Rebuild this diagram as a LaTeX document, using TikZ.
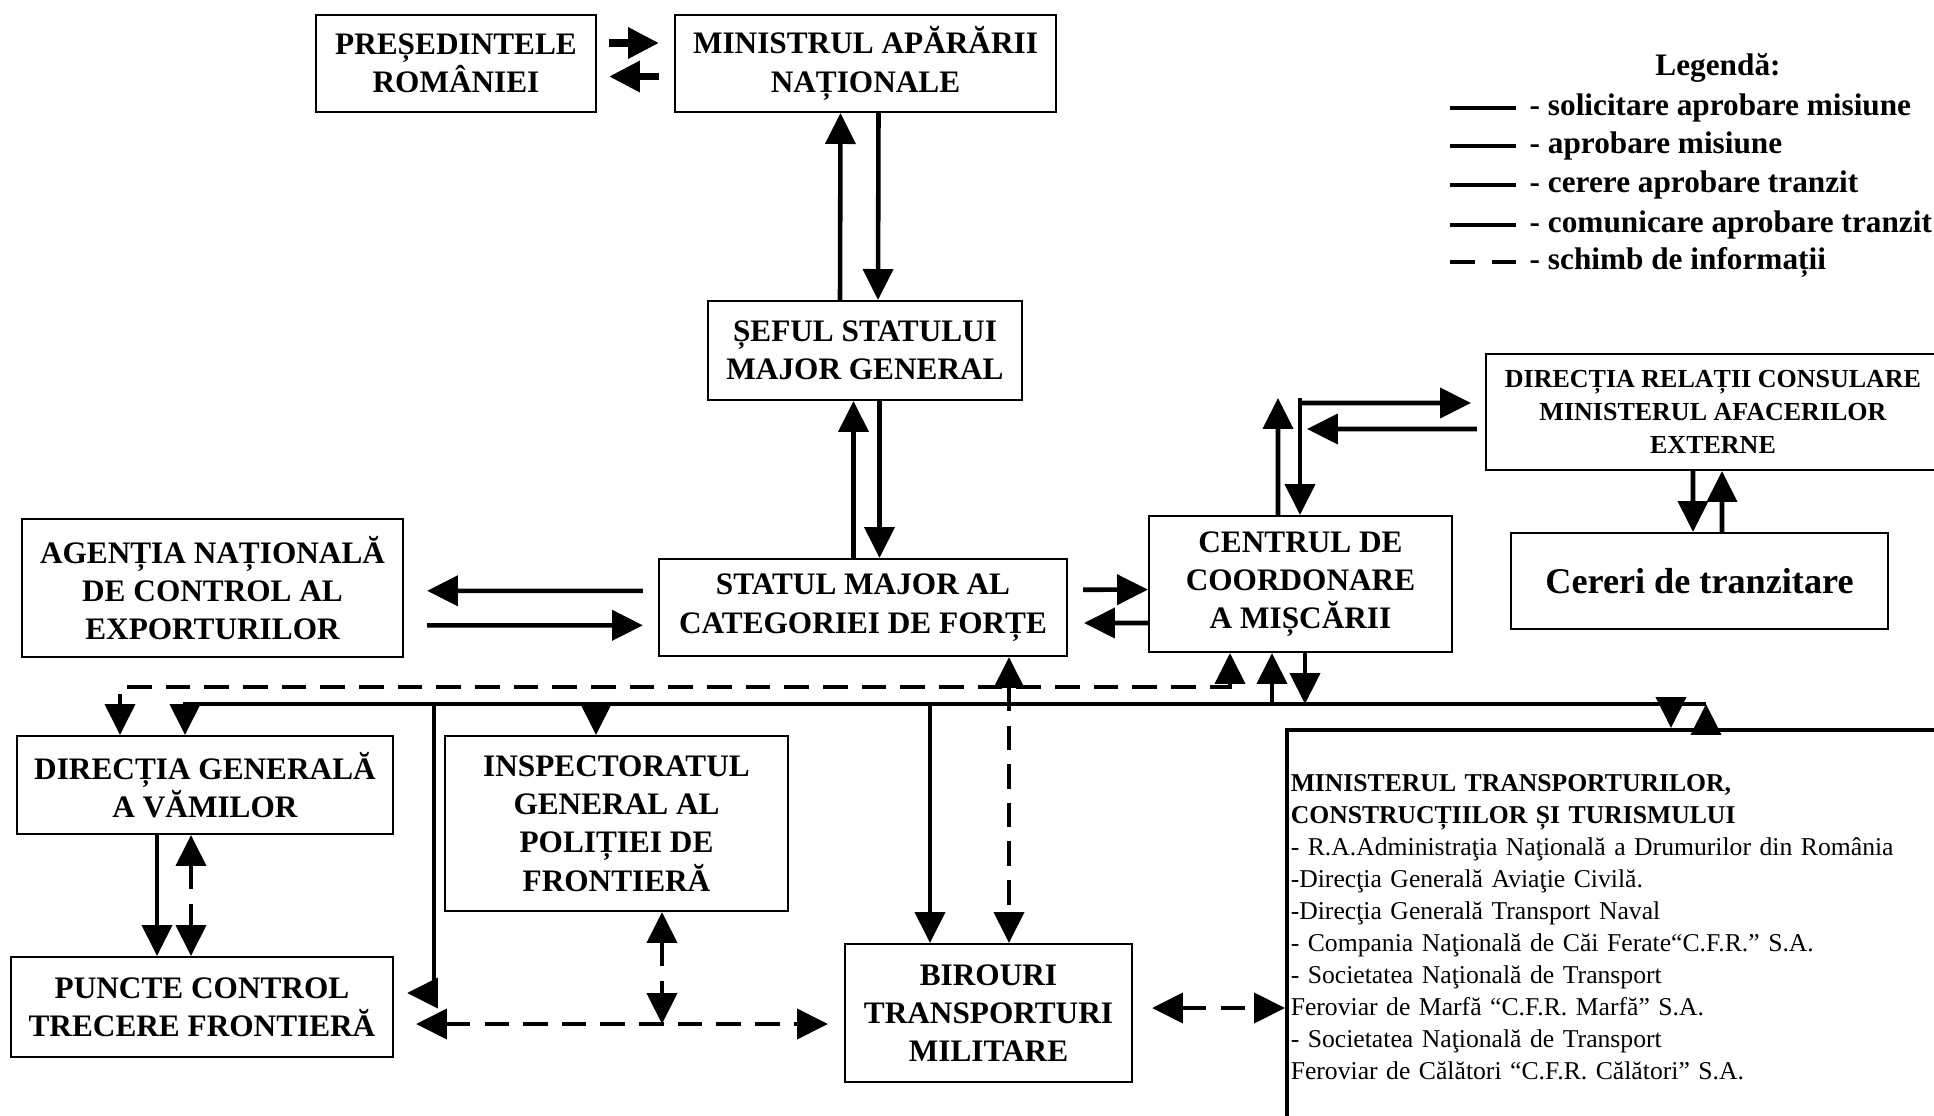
\documentclass[tikz,border=0pt]{standalone}
\usepackage{fontspec}
\setmainfont{Liberation Serif}
\usetikzlibrary{arrows.meta}

\tikzset{
	box/.style={draw, rectangle, line width=0.6pt, text centered, align=center, inner sep=1pt,
		font=\bfseries\fontsize{8.9}{10.9}\selectfont},
	link/.style={line width=1.3pt, -{Triangle[length=8.8pt,width=8.5pt]}},
	twoway/.style={line width=1.3pt, {Triangle[length=8.8pt,width=8.5pt]}-{Triangle[length=8.8pt,width=8.5pt]}},
	info/.style={twoway, dash pattern=on 7pt off 4pt},
	legline/.style={line width=1.4pt},
	legtext/.style={anchor=west, inner sep=0pt, font=\bfseries\fontsize{8.9}{10.9}\selectfont}
}

\begin{document}
\begin{tikzpicture}[x=0.1mm, y=-0.1mm]
		
		\useasboundingbox (0,0) rectangle (1934,1116);
		
		%Nodes
		\node (pres) at (456,63.5) [box, minimum width=2.8cm, minimum height=0.97cm]{PREȘEDINTELE\\ROMÂNIEI};
		\node (mapn) at (865.5,63.5) [box, minimum width=3.81cm, minimum height=0.97cm]{MINISTRUL APĂRĂRII\\NAȚIONALE};
		\node (sef) at (865,350.5) [box, minimum width=3.14cm, minimum height=0.99cm]{ȘEFUL STATULUI\\MAJOR GENERAL};
		\node (smcf) at (863,607.5) [box, minimum width=4.08cm, minimum height=0.97cm]{STATUL MAJOR AL\\CATEGORIEI DE FORȚE};
		\node (anc) at (212.5,588) [box, minimum width=3.81cm, minimum height=1.38cm]{AGENȚIA NAȚIONALĂ\\DE CONTROL AL\\EXPORTURILOR};
		\node (ccm) at (1300.5,584) [box, minimum width=3.03cm, minimum height=1.36cm]{CENTRUL DE\\COORDONARE\\A MIȘCĂRII};
		\node (drc) at (1713,412) [box, minimum width=4.54cm, minimum height=1.16cm, 
		font=\bfseries\fontsize{7.4}{9.3}\selectfont]{DIRECȚIA RELAȚII CONSULARE\\MINISTERUL AFACERILOR\\EXTERNE};
		\node (cereri) at (1699.5,581) [box, minimum width=3.77cm, minimum height=0.96cm, 
		font=\bfseries\fontsize{10.3}{12}\selectfont]{Cereri de tranzitare};
		
		%Bottom row
		\node (dgv) at (205,785) [box, minimum width=3.76cm, minimum height=0.98cm]{DIRECȚIA GENERALĂ\\A VĂMILOR};
		\node (igpf) at (616.5,823.5) [box, minimum width=3.43cm, minimum height=1.75cm]{INSPECTORATUL\\GENERAL AL\\POLIȚIEI DE\\FRONTIERĂ};
		\node (pctf) at (202,1007) [box, minimum width=3.82cm, minimum height=1cm]{PUNCTE CONTROL\\TRECERE FRONTIERĂ};
		\node (btm) at (988.5,1013) [box, minimum width=2.87cm, minimum height=1.38cm]{BIROURI\\TRANSPORTURI\\MILITARE};
		
		%Ministry box, cut by the page edge
		\node (mtct) at (1285,728) [draw, line width=1pt, anchor=north west, minimum height=3.95cm, 
		text width=6.8cm, align=left, inner xsep=0.4mm, font=\fontsize{7.3}{9.1}\selectfont]{%
			\textbf{MINISTERUL TRANSPORTURILOR,}\\
			\textbf{CONSTRUCȚIILOR ȘI TURISMULUI}\\
			- R.A.Administraţia Naţională a Drumurilor din România\\
			-Direcţia Generală Aviaţie Civilă.\\
			-Direcţia Generală Transport Naval\\
			- Compania Naţională de Căi Ferate“C.F.R.” S.A.\\
			- Societatea Naţională de Transport\\
			Feroviar de Marfă “C.F.R. Marfă” S.A.\\
			- Societatea Naţională de Transport\\
			Feroviar de Călători “C.F.R. Călători” S.A.};
		
		%Legend
		\node (leg) at (1718,68) [inner sep=0pt, font=\bfseries\fontsize{8.9}{10.9}\selectfont]{Legendă:};
		\node (l1) at (1529,108) [legtext]{- solicitare aprobare misiune};
		\node (l2) at (1529,146) [legtext]{- aprobare misiune};
		\node (l3) at (1529,185) [legtext]{- cerere aprobare tranzit};
		\node (l4) at (1529,225) [legtext]{- comunicare aprobare tranzit};
		\node (l5) at (1529,262) [legtext]{- schimb de informații};
		\draw[legline] ([xshift=-7.9mm]l1.west) -- ([xshift=-1.3mm]l1.west);
		\draw[legline] ([xshift=-7.9mm]l2.west) -- ([xshift=-1.3mm]l2.west);
		\draw[legline] ([xshift=-7.9mm]l3.west) -- ([xshift=-1.3mm]l3.west);
		\draw[legline] ([xshift=-7.9mm]l4.west) -- ([xshift=-1.3mm]l4.west);
		\draw[legline, dash pattern=on 7pt off 5pt] ([xshift=-7.9mm]l5.west) -- ([xshift=-1.3mm]l5.west);
		
		%Links
		\draw[link, line width=2pt, shorten <=1.2mm, shorten >=1.5mm] ([yshift=2.05mm]pres.east) -- ([yshift=2.05mm]mapn.west);
		\draw[link, line width=2pt, shorten <=1.5mm, shorten >=1.2mm] ([yshift=-1.3mm]mapn.west) -- ([yshift=-1.3mm]pres.east);
		\draw[link] ([xshift=-2.5mm]sef.north) -- ([xshift=-2.5mm]mapn.south);
		\draw[link] ([xshift=1.3mm]mapn.south) -- ([xshift=1.3mm]sef.north);
		\draw[link] ([xshift=-0.95mm]smcf.north) -- ([xshift=-1.15mm]sef.south);
		\draw[link] ([xshift=1.45mm]sef.south) -- ([xshift=1.65mm]smcf.north);
		\draw[link, shorten <=1.5mm, shorten >=2.3mm] ([yshift=1.67mm]smcf.west) -- ([yshift=-0.28mm]anc.east);
		\draw[link, shorten <=2.3mm, shorten >=1.5mm] ([yshift=-3.73mm]anc.east) -- ([yshift=-1.78mm]smcf.west);
		\draw[link, shorten <=1.5mm] ([yshift=1.77mm]smcf.east) -- ([yshift=-0.56mm]ccm.west);
		\draw[link, shorten >=1.6mm] ([yshift=-3.9mm]ccm.west) -- ([yshift=-1.55mm]smcf.east);
		
		%Centrul <-> consular direction
		\coordinate (ccmup) at (1278,398);
		\coordinate (ccmturn) at (1300,403);
		\coordinate (ccmback) at (1307,429);
		\draw[link] ([xshift=-2.25mm]ccm.north) -- (ccmup);
		\draw[link, shorten >=1.4mm] (ccmturn) -- ([yshift=0.9mm]drc.west);
		\draw[link, shorten <=0.8mm] ([yshift=-1.7mm]drc.west) -- (ccmback);
		\draw[link] ([yshift=0.5mm]ccmturn) -- (ccmturn |- ccm.north);
		\draw[link] ([xshift=-2mm]drc.south) -- ([xshift=-0.65mm]cereri.north);
		\draw[link] ([xshift=2.25mm]cereri.north) -- ([xshift=0.9mm]drc.south);
		
		%Dashed line (information exchange)
		\coordinate (infoL) at (120,687);
		\coordinate (infoR) at (1230,687);
		\draw[info] (infoR |- ccm.south) -- (infoR) -- (infoL) -- (infoL |- dgv.north);
		\draw[info] ([xshift=14.6mm]smcf.south) -- ([xshift=14.6mm]smcf.south |- btm.north);
		
		%Solid line (transit)
		\coordinate (busL) at (185,704);
		\coordinate (busR) at (1706,704);
		\coordinate (busT) at (1671,704);
		\coordinate (busP) at (434,704);
		\draw[link] (busR) -- (busL) -- (busL |- dgv.north);
		\draw[link] (busR |- mtct.north) -- (busR);
		\draw[link] (busT) -- (busT |- mtct.north);
		\draw[link, shorten >=1.3mm] (busP) |- ([yshift=1.4mm]pctf.east);
		\draw[link] ([xshift=-2.05mm]igpf.north |- busL) -- ([xshift=-2.05mm]igpf.north);
		\draw[link] ([xshift=-5.85mm]btm.north |- busL) -- ([xshift=-5.85mm]btm.north);
		\draw[link] ([xshift=-2.85mm]ccm.south |- busL) -- ([xshift=-2.85mm]ccm.south);
		\draw[link] ([xshift=0.45mm]ccm.south) -- ([xshift=0.45mm]ccm.south |- busL);
		
		%Vamilor <-> puncte
		\draw[link] ([xshift=-4.8mm]dgv.south) -- ([xshift=-4.8mm]dgv.south |- pctf.north);
		\draw[info] ([xshift=-1.4mm]dgv.south) -- ([xshift=-1.4mm]dgv.south |- pctf.north);
		
		%Puncte <-> birouri <-> minister
		\coordinate (pbline) at ([yshift=-1.7mm]pctf.east);
		\draw[info, shorten <=2.2mm, shorten >=1.6mm] (pbline) -- (pbline -| btm.west);
		\draw[info] ([xshift=4.55mm]igpf.south) -- ([xshift=4.55mm]igpf.south |- pbline);
		\draw[info, shorten <=1.9mm] ([yshift=0.5mm]btm.east) -- ([yshift=0.5mm]btm.east -| mtct.west);
		
\end{tikzpicture}
\end{document}
